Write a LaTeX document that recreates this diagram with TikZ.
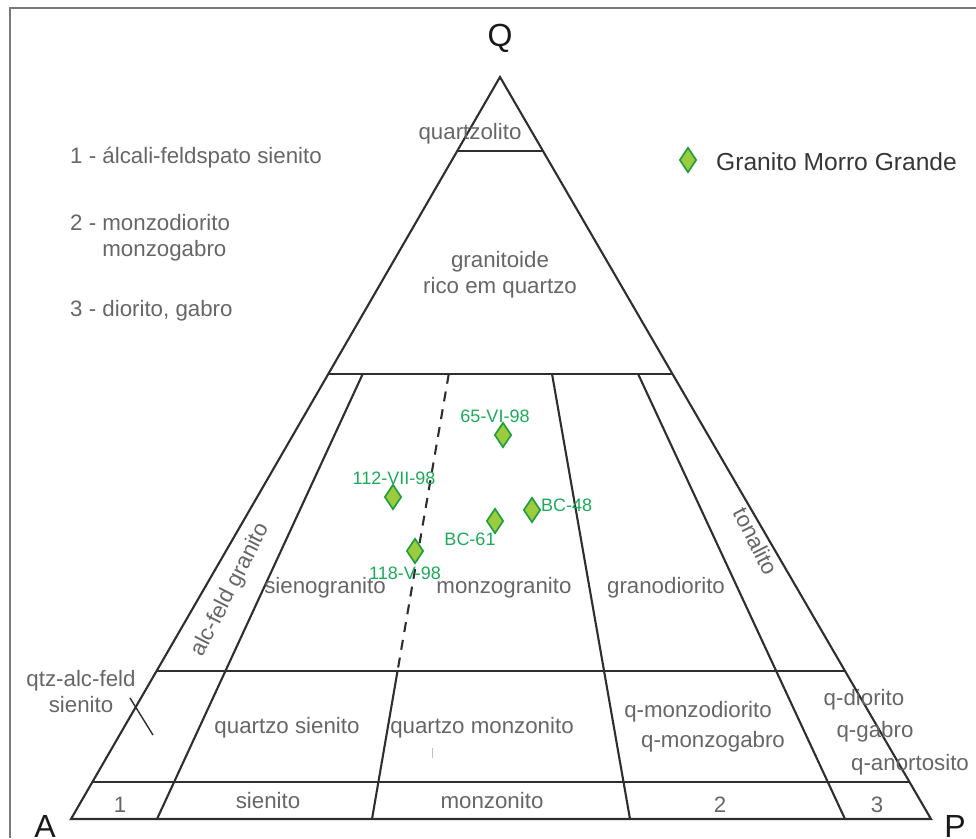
\documentclass[tikz,border=0pt]{standalone}
\usepackage{fontspec}
\setmainfont{Liberation Sans}
\usetikzlibrary{shapes.geometric}
\definecolor{edge}{HTML}{2E2E2E}
\definecolor{frame}{HTML}{7A7A7A}
\definecolor{lbl}{HTML}{666666}
\definecolor{legendtext}{HTML}{363636}
\definecolor{ptfill}{HTML}{9DCB3E}
\definecolor{ptline}{HTML}{1F9F40}
\definecolor{ptlabel}{HTML}{1DAA5A}
\begin{document}
\begin{tikzpicture}[x=1pt,y=-1pt,
  field/.style={line width=2.1pt, draw=edge, line join=miter},
  region/.style={text=lbl, font=\fontsize{22.3}{26}\selectfont, align=center, inner sep=0pt},
  note/.style={region, align=left, anchor=west},
  vertex/.style={text=black!90, font=\fontsize{32}{36}\selectfont, inner sep=0pt},
  sample/.style={diamond, draw=ptline, fill=ptfill, line width=1.7pt,
    minimum width=17pt, minimum height=25pt, inner sep=0pt},
  samplename/.style={text=ptlabel, font=\fontsize{18}{20}\selectfont, inner sep=0pt}
]
\useasboundingbox (0,0) rectangle (976,838);

% frame (top and left edges)
\draw[frame, line width=1.6pt] (10,838) -- (10,8) -- (976,8);

% corners of the QAPF triangle
\coordinate (A) at (71,819);
\coordinate (P) at (931,819);
\coordinate (Q) at (500,77);

% outer triangle
\draw[field] (A) -- (P) -- (Q) -- cycle;

% horizontal quartz levels: 90, 60, 20, 5 %
\draw[field] (barycentric cs:Q=0.9,A=0.1) -- (barycentric cs:Q=0.9,P=0.1);
\draw[field] (barycentric cs:Q=0.6,A=0.4) -- (barycentric cs:Q=0.6,P=0.4);
\draw[field] (barycentric cs:Q=0.2,A=0.8) -- (barycentric cs:Q=0.2,P=0.8);
\draw[field] (barycentric cs:Q=0.05,A=0.95) -- (barycentric cs:Q=0.05,P=0.95);

% radial plagioclase ratio lines: 10, 35, 65, 90 %
\draw[field] (barycentric cs:Q=0.6,A=0.36,P=0.04) -- (barycentric cs:A=0.9,P=0.1);
\draw[field, dash pattern=on 10pt off 8pt] (barycentric cs:Q=0.6,A=0.26,P=0.14) -- (barycentric cs:Q=0.2,A=0.52,P=0.28);
\draw[field] (barycentric cs:Q=0.2,A=0.52,P=0.28) -- (barycentric cs:A=0.65,P=0.35);
\draw[field] (barycentric cs:Q=0.6,A=0.14,P=0.26) -- (barycentric cs:A=0.35,P=0.65);
\draw[field] (barycentric cs:Q=0.6,A=0.04,P=0.36) -- (barycentric cs:A=0.1,P=0.9);

% leader for the quartz alkali-feldspar syenite field
\coordinate (lead1) at (130,698);
\coordinate (lead2) at (153,735);
\draw[edge, line width=1.4pt] (lead1) -- (lead2);
% faint tick
\draw[black!25, line width=0.8pt] (432.5,748) -- (432.5,758);

% vertex labels
\node[vertex] (Qlab) at (500,38) {Q};
\node[vertex] (Alab) at (45,826) {A};
\node[vertex] (Plab) at (955,826) {P};

% field names
\node[region] (qzl) at (470,134) {quartzolito};
\node[region] (grq) at (500,275) {granitoide\\rico em quartzo};
\node[region, rotate=63] (afg) at (231,590) {alc-feld granito};
\node[region] (sng) at (325,588) {sienogranito};
\node[region] (mzg) at (504,588) {monzogranito};
\node[region] (grd) at (666,588) {granodiorito};
\node[region, rotate=-63] (ton) at (756,541) {tonalito};
\node[region] (qafs) at (81,692) {qtz-alc-feld\\sienito};
\node[region] (qsy) at (287,728) {quartzo sienito};
\node[region] (qmz) at (482,728) {quartzo monzonito};
\node[region] (qmd) at (698,712) {q-monzodiorito};
\node[region] (qmg) at (713,742) {q-monzogabro};
\node[region] (qdi) at (864,700) {q-diorito};
\node[region] (qgb) at (875,732) {q-gabro};
\node[region] (qan) at (910,765) {q-anortosito};
\node[region] (f1) at (120,805) {1};
\node[region] (sye) at (268,801) {sienito};
\node[region] (mzn) at (492,801) {monzonito};
\node[region] (f2) at (720,805) {2};
\node[region] (f3) at (877,805) {3};

% key to numbered fields
\node[note] (k1) at (70,158) {1 - álcali-feldspato sienito};
\node[note] (k2) at (70,238) {2 - monzodiorito\\\phantom{2 - }monzogabro};
\node[note] (k3) at (70,311) {3 - diorito, gabro};

% legend
\node[sample] (legmark) at (688,160) {};
\node[text=legendtext, font=\fontsize{24.6}{28}\selectfont, anchor=west, inner sep=0pt] (legtext) at (716,162) {Granito Morro Grande};

% samples
\node[sample] (s1) at (503,435) {};
\node[samplename] (s1n) at (495,416) {65-VI-98};
\node[sample] (s2) at (393,497) {};
\node[samplename] (s2n) at (394,478) {112-VII-98};
\node[sample] (s3) at (532,510) {};
\node[samplename, anchor=west] (s3n) at (541,505) {BC-48};
\node[sample] (s4) at (495,521) {};
\node[samplename] (s4n) at (470,539) {BC-61};
\node[sample] (s5) at (415,551) {};
\node[samplename] (s5n) at (405,573) {118-V-98};
\end{tikzpicture}
\end{document}
